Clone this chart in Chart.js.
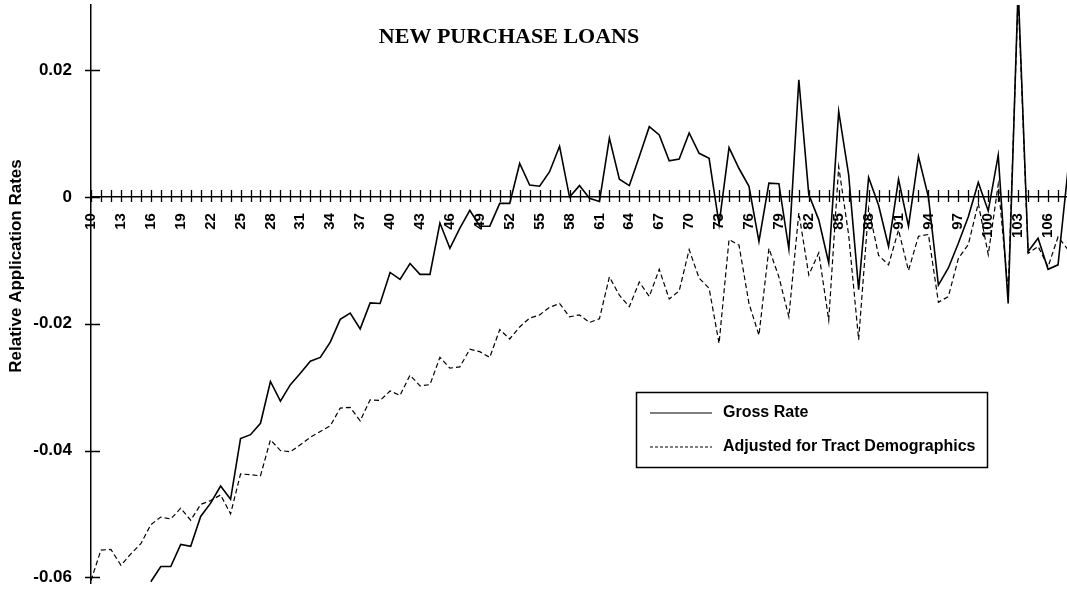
<!DOCTYPE html>
<html>
<head>
<meta charset="utf-8">
<script src="https://cdn.jsdelivr.net/npm/chart.js"></script>
<style>
  html, body { margin: 0; padding: 0; background: #fff; overflow: hidden; }
  #wrap { width: 1067px; height: 592px; overflow: hidden; }
</style>
</head>
<body>
<div id="wrap"><canvas id="chart1" width="1068" height="592"></canvas></div>
<script>
// tract categories on the x axis
const categories = [
    10, 11, 12, 13, 14, 15, 16, 17, 18, 19, 20, 21, 22, 23, 24, 25, 26, 27, 28, 29,
    30, 31, 32, 33, 34, 35, 36, 37, 38, 39, 40, 41, 42, 43, 44, 45, 46, 47, 48, 49,
    50, 51, 52, 53, 54, 55, 56, 57, 58, 59, 60, 61, 62, 63, 64, 65, 66, 67, 68, 69,
    70, 71, 72, 73, 74, 75, 76, 77, 78, 79, 80, 81, 82, 83, 84, 85, 86, 87, 88, 89,
    90, 91, 92, 93, 94, 95, 96, 97, 98, 99, 100, 101, 102, 103, 104, 105, 106, 107, 108
];

const xTickLabels = ['10', '13', '16', '19', '22', '25', '28', '31', '34', '37', '40', '43', '46', '49',
    '52', '55', '58', '61', '64', '67', '70', '73', '76', '79', '82', '85', '88', '91', '94', '97',
    '100', '103', '106'];
const yTicks = [0.02, 0, -0.02, -0.04, -0.06];

// values below the bottom of the plot (10-15) cannot be read, left empty
const grossRate = [
    null, null, null, null, null, null, -0.0607, -0.0583, -0.0583, -0.0548,
    -0.0551, -0.0504, -0.0483, -0.0456, -0.0477, -0.0381, -0.0375, -0.0357, -0.0291, -0.0322,
    -0.0296, -0.0278, -0.0259, -0.0253, -0.0229, -0.0193, -0.0183, -0.0208, -0.0167, -0.0168,
    -0.0119, -0.0130, -0.0105, -0.0122, -0.0122, -0.0041, -0.0081, -0.0049, -0.0021, -0.0046,
    -0.0046, -0.0010, -0.0010, 0.0053, 0.0019, 0.0017, 0.0040, 0.0080, 0.0000, 0.0018,
    -0.0002, -0.0007, 0.0093, 0.0028, 0.0018, 0.0064, 0.0111, 0.0098, 0.0057, 0.0060,
    0.0101, 0.0069, 0.0061, -0.0043, 0.0078, 0.0045, 0.0017, -0.0070, 0.0022, 0.0021,
    -0.0082, 0.0185, 0.0004, -0.0036, -0.0104, 0.0135, 0.0035, -0.0146, 0.0031, -0.0013,
    -0.0078, 0.0028, -0.0046, 0.0064, 0.0000, -0.0139, -0.0112, -0.0073, -0.0031, 0.0023,
    -0.0022, 0.0066, -0.0168, 0.0330, -0.0086, -0.0065, -0.0114, -0.0107, 0.0043
];

const adjustedRate = [
    -0.0605, -0.0557, -0.0556, -0.0581, -0.0563, -0.0547, -0.0517, -0.0505, -0.0508, -0.0491,
    -0.0510, -0.0485, -0.0479, -0.0470, -0.0500, -0.0437, -0.0438, -0.0440, -0.0383, -0.0400,
    -0.0402, -0.0391, -0.0379, -0.0370, -0.0361, -0.0333, -0.0332, -0.0353, -0.0320, -0.0321,
    -0.0306, -0.0313, -0.0281, -0.0298, -0.0296, -0.0253, -0.0270, -0.0268, -0.0240, -0.0244,
    -0.0253, -0.0209, -0.0224, -0.0205, -0.0191, -0.0186, -0.0174, -0.0168, -0.0189, -0.0186,
    -0.0198, -0.0192, -0.0126, -0.0155, -0.0173, -0.0134, -0.0157, -0.0114, -0.0161, -0.0148,
    -0.0083, -0.0128, -0.0144, -0.0231, -0.0067, -0.0076, -0.0168, -0.0218, -0.0081, -0.0126,
    -0.0189, -0.0025, -0.0123, -0.0088, -0.0194, 0.0048, -0.0060, -0.0225, -0.0018, -0.0092,
    -0.0107, -0.0052, -0.0116, -0.0062, -0.0059, -0.0166, -0.0157, -0.0097, -0.0075, -0.0010,
    -0.0091, 0.0020, -0.0148, 0.0320, -0.0089, -0.0078, -0.0110, -0.0063, -0.0083
];

const toPoints = values => categories.map((c, i) => ({ x: c, y: values[i] }));

// crossing tick marks, title, axis title and boxed legend
const decorations = {
    id: 'decorations',
    afterDraw(chart) {
        const { ctx, chartArea, scales: { x, y } } = chart;
        const y0 = y.getPixelForValue(0);
        ctx.save();
        ctx.strokeStyle = '#000';
        ctx.lineWidth = 1.3;
        ctx.beginPath();
        x.ticks.forEach(t => {
            const px = Math.round(x.getPixelForValue(t.value)) + 0.5;
            ctx.moveTo(px, y0 - 7);
            ctx.lineTo(px, y0 + 5);
        });
        y.ticks.forEach(t => {
            const py = Math.round(y.getPixelForValue(t.value)) + 0.5;
            ctx.moveTo(chartArea.left - 6, py);
            ctx.lineTo(chartArea.left + 9, py);
        });
        ctx.stroke();

        ctx.fillStyle = '#000';
        ctx.textAlign = 'center';
        ctx.textBaseline = 'middle';
        ctx.font = 'bold 22px "Liberation Serif"';
        ctx.fillText('NEW PURCHASE LOANS', 509, 37);

        ctx.save();
        ctx.translate(16, 266);
        ctx.rotate(-Math.PI / 2);
        ctx.font = 'bold 17px "Liberation Sans"';
        ctx.fillText('Relative Application Rates', 0, 0);
        ctx.restore();

        // legend box
        ctx.lineWidth = 1.5;
        ctx.strokeRect(636.5, 392.5, 351, 75);
        ctx.font = 'bold 16px "Liberation Sans"';
        ctx.textAlign = 'left';
        chart.data.datasets.forEach((ds, i) => {
            const ly = 413 + i * 34;
            ctx.beginPath();
            ctx.lineWidth = 1.2;
            ctx.setLineDash(ds.borderDash.length ? [3, 2] : []);
            ctx.moveTo(650, ly);
            ctx.lineTo(712, ly);
            ctx.stroke();
            ctx.setLineDash([]);
            ctx.fillText(ds.label, 723, ly);
        });
        ctx.restore();
    }
};

const ctx1 = document.getElementById('chart1').getContext('2d');
const chart1 = new Chart(ctx1, {
    type: 'line',
    data: {
        datasets: [{
            label: 'Gross Rate',
            data: toPoints(grossRate),
            borderColor: '#000',
            borderWidth: 1.6,
            borderDash: [],
            pointRadius: 0,
            tension: 0
        }, {
            label: 'Adjusted for Tract Demographics',
            data: toPoints(adjustedRate),
            borderColor: '#000',
            borderWidth: 1.2,
            borderDash: [5, 3],
            pointRadius: 0,
            tension: 0
        }]
    },
    options: {
        responsive: false,
        animation: false,
        devicePixelRatio: 1,
        layout: { padding: { top: 5, bottom: 9, left: 0, right: 0 } },
        plugins: {
            legend: { display: false },
            tooltip: { enabled: false }
        },
        scales: {
            x: {
                type: 'linear',
                position: { y: 0 },
                min: 10,
                max: 108,
                grid: { display: false, drawTicks: false },
                border: { display: true, color: '#000', width: 1.5 },
                afterBuildTicks: s => { s.ticks = categories.map(v => ({ value: v })); },
                afterFit: s => { s.height = 0; s.paddingLeft = 0; s.paddingRight = 0; },
                ticks: {
                    autoSkip: false,
                    minRotation: 90,
                    maxRotation: 90,
                    padding: 16,
                    color: '#000',
                    font: { family: 'Liberation Sans', size: 15, weight: 'bold' },
                    callback: v => xTickLabels.includes(String(v)) ? String(v) : ''
                }
            },
            y: {
                min: -0.0609,
                max: 0.0303,
                grid: { display: false, drawTicks: false },
                border: { display: true, color: '#000', width: 1.5 },
                afterBuildTicks: s => { s.ticks = yTicks.map(v => ({ value: v })); },
                afterFit: s => { s.width = 91; s.paddingTop = 0; s.paddingBottom = 0; },
                ticks: {
                    padding: 19,
                    color: '#000',
                    font: { family: 'Liberation Sans', size: 17, weight: 'bold' },
                    callback: v => v === 0 ? '0' : v.toFixed(2)
                }
            }
        }
    },
    plugins: [decorations]
});
</script>
</body>
</html>
